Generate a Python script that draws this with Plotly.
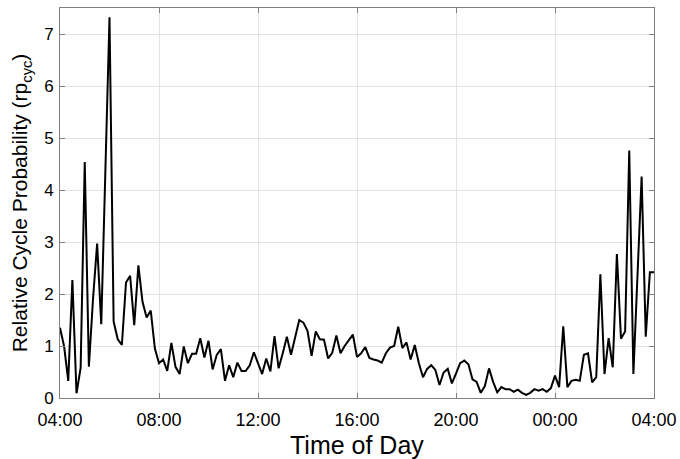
import plotly.graph_objects as go
import pandas as pd

# 10-minute samples from 04:00 to 04:00 next day
start_time = "2020-01-01 04:00"
n_samples = 145
times = pd.date_range(start_time, periods=n_samples, freq="10min")

rp_cyc = [
    1.35, 0.99, 0.33, 2.27, 0.09, 0.58, 4.54, 0.60, 1.90, 2.97,
    1.42, 4.40, 7.32, 1.47, 1.13, 1.02, 2.22, 2.35, 1.40, 2.55,
    1.85, 1.55, 1.68, 0.95, 0.67, 0.74, 0.52, 1.06, 0.60, 0.46,
    0.99, 0.67, 0.85, 0.85, 1.15, 0.78, 1.10, 0.55, 0.83, 0.94,
    0.33, 0.63, 0.40, 0.68, 0.52, 0.52, 0.63, 0.88, 0.67, 0.46,
    0.76, 0.51, 1.19, 0.57, 0.86, 1.18, 0.83, 1.18, 1.50, 1.45,
    1.29, 0.81, 1.28, 1.13, 1.12, 0.76, 0.87, 1.20, 0.86, 1.00,
    1.12, 1.22, 0.79, 0.86, 0.98, 0.77, 0.74, 0.72, 0.68, 0.86,
    0.97, 1.00, 1.37, 0.96, 1.07, 0.74, 1.02, 0.67, 0.40, 0.56,
    0.63, 0.54, 0.25, 0.49, 0.56, 0.28, 0.47, 0.67, 0.72, 0.65,
    0.36, 0.31, 0.10, 0.23, 0.57, 0.31, 0.11, 0.21, 0.17, 0.17,
    0.12, 0.16, 0.10, 0.06, 0.10, 0.17, 0.14, 0.17, 0.12, 0.19,
    0.43, 0.21, 1.38, 0.21, 0.33, 0.35, 0.33, 0.83, 0.86, 0.30,
    0.40, 2.38, 0.46, 1.15, 0.59, 2.77, 1.14, 1.28, 4.76, 0.46,
    2.36, 4.26, 1.18, 2.42, 2.42,
]

x_tick_vals = pd.date_range(start_time, periods=7, freq="4h")
x_tick_text = ["04:00", "08:00", "12:00", "16:00", "20:00", "00:00", "04:00"]
y_tick_vals = [0, 1, 2, 3, 4, 5, 6, 7]
x_title = "Time of Day"
y_title = "Relative Cycle Probability (rp<sub>cyc</sub>)"

fig = go.Figure()
fig.add_trace(go.Scatter(
    x=times, y=rp_cyc, mode="lines",
    line=dict(color="black", width=2),
    showlegend=False,
))

axis_common = dict(
    showline=True, linecolor="#808080", linewidth=1, mirror="ticks",
    ticks="inside", ticklen=5, tickcolor="#808080",
    showgrid=True, gridcolor="#e3e3e3", gridwidth=1, zeroline=False,
    automargin=False,
)

fig.update_layout(
    width=680, height=459,
    margin=dict(l=60, r=26, t=8, b=61),
    paper_bgcolor="white", plot_bgcolor="white",
    font=dict(family="Liberation Sans, Arial, sans-serif", color="black"),
    xaxis=dict(
        range=[x_tick_vals[0], x_tick_vals[-1]],
        tickvals=x_tick_vals, ticktext=x_tick_text,
        tickfont=dict(size=18), ticklabelstandoff=5,
        **axis_common,
    ),
    yaxis=dict(
        range=[0, 7.5], tickvals=y_tick_vals,
        tickfont=dict(size=17), ticklabelstandoff=2,
        title=dict(text=y_title, font=dict(size=21), standoff=10),
        **axis_common,
    ),
)

fig.add_annotation(
    text=x_title, xref="paper", yref="paper", x=0.5, y=0,
    xanchor="center", yanchor="bottom", yshift=-62, showarrow=False,
    font=dict(size=25), borderpad=0,
)

fig.write_html("out.html")
